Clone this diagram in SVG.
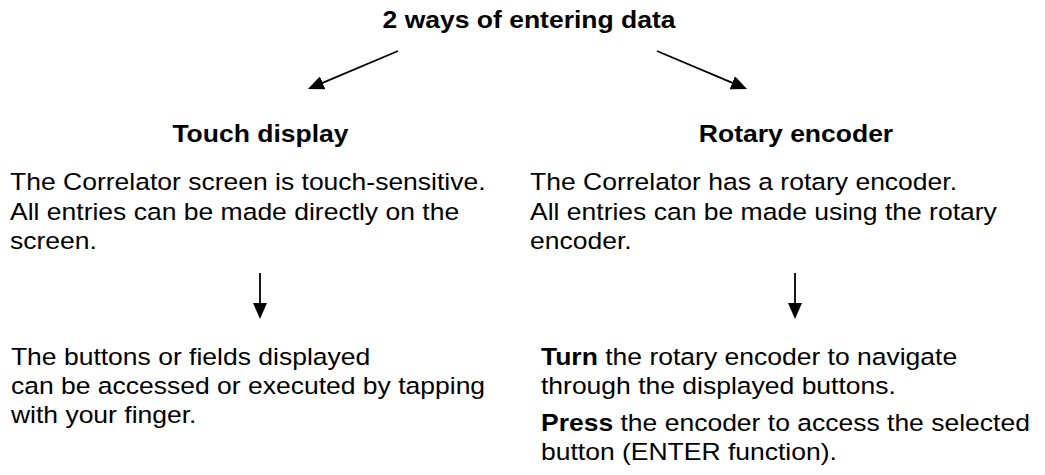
<svg xmlns="http://www.w3.org/2000/svg" width="1045" height="475" viewBox="0 0 1045 475">
<style>
text{font-family:"Liberation Sans",Arial,sans-serif;font-size:23.5px;fill:#000}
.b{font-weight:bold}
.c{text-anchor:middle}
.con{stroke:#000;stroke-width:1.8;fill:none}
</style>
<defs>
<marker id="ah" markerUnits="userSpaceOnUse" markerWidth="16" markerHeight="14" refX="6" refY="7" orient="auto" viewBox="0 0 16 14">
<path d="M0,0 L16,7 L0,14 z" fill="#000"/>
</marker>
</defs>
<rect width="1045" height="475" fill="#fff"/>
<g id="connectors">
<line class="con" x1="398" y1="51" x2="317.2" y2="85.1" marker-end="url(#ah)"/>
<line class="con" x1="657" y1="51" x2="737.8" y2="85.1" marker-end="url(#ah)"/>
<line class="con" x1="260" y1="273" x2="260" y2="309" marker-end="url(#ah)"/>
<line class="con" x1="795" y1="273" x2="795" y2="309" marker-end="url(#ah)"/>
</g>
<g transform="scale(1.128 1)">
<g id="title">
<text class="b c" x="469" y="28">2 ways of entering data</text>
</g>
<g id="touch-display">
<text class="b c" x="230.9" y="142">Touch display</text>
<text x="8.9" y="190">The Correlator screen is touch-sensitive.</text>
<text x="8.9" y="220">All entries can be made directly on the</text>
<text x="8.9" y="249">screen.</text>
</g>
<g id="rotary-encoder">
<text class="b c" x="705.7" y="142">Rotary encoder</text>
<text x="469.9" y="190">The Correlator has a rotary encoder.</text>
<text x="469.9" y="220">All entries can be made using the rotary</text>
<text x="469.9" y="249">encoder.</text>
</g>
<g id="touch-result">
<text x="9.7" y="365">The buttons or fields displayed</text>
<text x="9.7" y="394">can be accessed or executed by tapping</text>
<text x="9.7" y="423">with your finger.</text>
</g>
<g id="rotary-result">
<text x="479.6" y="365"><tspan class="b">Turn</tspan> the rotary encoder to navigate</text>
<text x="479.6" y="394">through the displayed buttons.</text>
<text x="479.6" y="431"><tspan class="b">Press</tspan> the encoder to access the selected</text>
<text x="479.6" y="460">button (ENTER function).</text>
</g>
</g>
</svg>
